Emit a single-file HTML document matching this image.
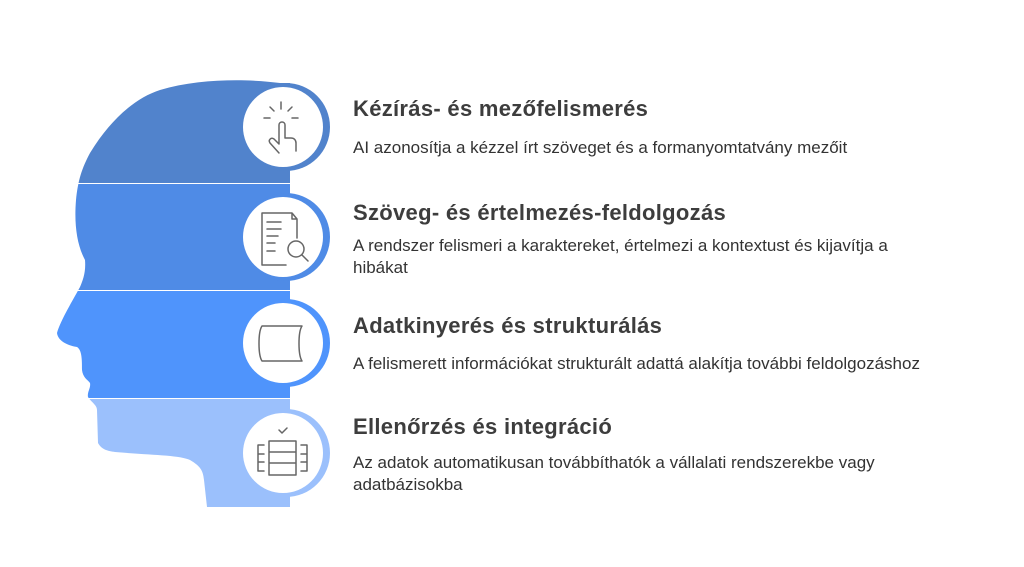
<!DOCTYPE html>
<html><head><meta charset="utf-8"><style>
html,body{margin:0;padding:0;background:#fff;}
body{width:1024px;height:567px;position:relative;overflow:hidden;font-family:"Liberation Sans",sans-serif;}
.t{position:absolute;left:353px;font-size:22px;font-weight:bold;color:#3d3d3d;white-space:nowrap;letter-spacing:0.3px}
.d{position:absolute;left:353px;font-size:17px;color:#333;line-height:22px;width:560px}
</style></head><body>
<svg width="1024" height="567" style="position:absolute;left:0;top:0">
<defs>
<clipPath id="head"><path d="M290,83 L280,83 C250,79 200,78 160,90 C135,98 110,120 90,153 C82,168 78,180 76,200 C74,225 77,245 85,260 C86,272 83,280 80,287 C70,305 60,322 57,333 C58,342 70,346 77,347 C82,350 82,360 82,370 C83,378 88,380 90,383 C91,388 87,392 88,397 C92,403 97,405 97,410 L98,443 C102,450 108,451 115,452 C150,455 180,455 190,460 C200,466 203,470 204,480 L207,507 L290,507 Z"/></clipPath>
</defs>
<g clip-path="url(#head)">
<rect x="0" y="0" width="300" height="183" fill="#5183cc"/>
<rect x="0" y="184" width="300" height="106" fill="#4f8be6"/>
<rect x="0" y="291" width="300" height="107" fill="#4f94fc"/>
<rect x="0" y="399" width="300" height="120" fill="#9bc0fc"/>
</g>
<circle cx="286" cy="127" r="44" fill="#5183cc"/>
<circle cx="286" cy="237" r="44" fill="#4f8be6"/>
<circle cx="286" cy="343" r="44" fill="#4f94fc"/>
<circle cx="286" cy="453" r="44" fill="#9bc0fc"/>
<g fill="#fff"><circle cx="283" cy="127" r="40"/><circle cx="283" cy="237" r="40"/><circle cx="283" cy="343" r="40"/><circle cx="283" cy="453" r="40"/></g>
<g fill="none" stroke="#666" stroke-width="1.5" stroke-linecap="round" stroke-linejoin="round">
<path d="M281,102 v7 M270,107 l4,4 M292,107 l-4,4 M264,118 h6 M292,118 h6"/>
<path d="M279,153 l-9,-10 c-2,-3 1,-6 4,-4 l5,5 v-19 c0,-4 6,-4 6,0 v13 h6 c3,0 5,2 5,5 v8"/>
<path d="M297,238 v-19 l-5,-6 h-30 v52 h24 M292,213 v6 h5 M267,222 h14 M267,229 h14 M267,236 h11 M267,243 h8 M267,251 h8"/>
<circle cx="296" cy="249" r="8"/><path d="M302,255 l6,6"/>
<path d="M262,326 h40 c-4,6 -4,29 0,35 h-40 c-4,-6 -4,-29 0,-35 z"/>
<path d="M279,430 l3,3 l5,-5 M269,441 h27 v34 h-27 z M269,452 h27 M269,463 h27 M264,445 h-6 v26 h6 M258,454 h6 M258,462 h6 M301,445 h6 v26 h-6 M307,454 h-6 M307,462 h-6"/>
</g>
</svg>
<div class="t" style="top:96px">Kézírás- és mezőfelismerés</div>
<div class="d" style="top:137px;width:660px">AI azonosítja a kézzel írt szöveget és a formanyomtatvány mezőit</div>
<div class="t" style="top:200px">Szöveg- és értelmezés-feldolgozás</div>
<div class="d" style="top:235px">A rendszer felismeri a karaktereket, értelmezi a kontextust és kijavítja a hibákat</div>
<div class="t" style="top:313px">Adatkinyerés és strukturálás</div>
<div class="d" style="top:353px;width:660px">A felismerett információkat strukturált adattá alakítja további feldolgozáshoz</div>
<div class="t" style="top:414px">Ellenőrzés és integráció</div>
<div class="d" style="top:452px">Az adatok automatikusan továbbíthatók a vállalati rendszerekbe vagy adatbázisokba</div>
</body></html>
